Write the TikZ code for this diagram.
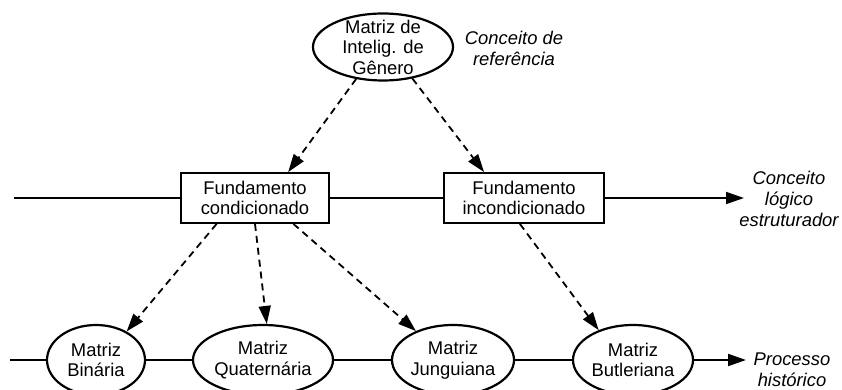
\documentclass[tikz,border=0pt]{standalone}
\usepackage{fontspec}
\setmainfont{Liberation Sans}
\usepackage{tikz}
\usetikzlibrary{arrows.meta,shapes.geometric}

\begin{document}
\begin{tikzpicture}[ x = 1pt, y = -1pt,
    font = \fontsize{18.4}{20.5}\selectfont,
    every node/.style = {align = center},
    Box/.style  = {draw, line width = 1.8pt, minimum height = 50pt, inner sep = 0pt},
    Ell/.style  = {draw, ellipse, line width = 2.2pt, minimum height = 70pt,
                   inner xsep = -5pt, inner ysep = -12pt},
    Note/.style = {font = \fontsize{18.4}{21}\selectfont\itshape},
    flow/.style = {line width = 1.8pt, -{Triangle[length = 18pt, width = 12pt]}},
    dep/.style  = {flow, dash pattern = on 7pt off 5pt} ]

    \useasboundingbox (0,0) rectangle (842,390);

    \node[Ell, minimum width = 140pt, minimum height = 67pt] (MIG) at (383,47) {Matriz de\\Intelig. de\\Gênero};
    \node[Note] (REF) at (514,48) {Conceito de\\referência};

    \node[Box, minimum width = 148pt] (FC) at (255,198) {Fundamento\\condicionado};
    \node[Box, minimum width = 160pt] (FI) at (524,198) {Fundamento\\incondicionado};
    \node[Note] (LOG) at (789,199) {Conceito\\lógico\\estruturador};

    \node[Ell, minimum width = 98pt]  (MB)  at (96,360)  {Matriz\\Binária};
    \node[Ell, minimum width = 140pt] (MQ)  at (263,360) {Matriz\\Quaternária};
    \node[Ell, minimum width = 122pt] (MJ)  at (453,360) {Matriz\\Junguiana};
    \node[Ell, minimum width = 120pt] (MBu) at (633,360) {Matriz\\Butleriana};
    \node[Note] (HIS) at (792,370) {Processo\\histórico};

    \coordinate (L1) at (14,198);
    \coordinate (R1) at (744,198);
    \coordinate (L2) at (10,360);
    \coordinate (R2) at (746,360);

    % timelines
    \draw[flow] (L1) -- (FC) -- (FI) -- (R1);
    \draw[flow] (L2) -- (MB) -- (MQ) -- (MJ) -- (MBu) -- (R2);

    \draw[dep] (MIG.230) -- (FC.38);
    \draw[dep] (MIG.313) -- (FI.147);
    \draw[dep] (FC.214)  -- (MB.43);
    \draw[dep] (FC.south) -- (MQ.84);
    \draw[dep] (FC.326)  -- (MJ.142);
    \draw[dep] (FI.261)  -- (MBu.139);

\end{tikzpicture}
\end{document}
